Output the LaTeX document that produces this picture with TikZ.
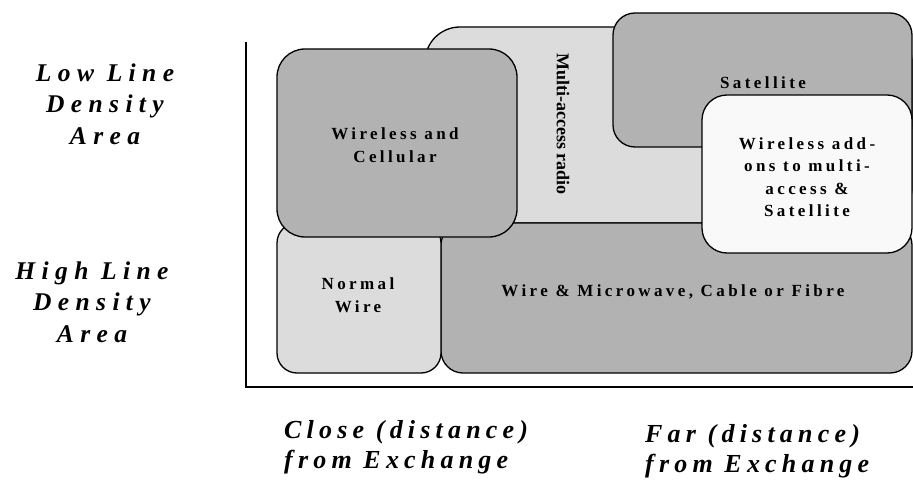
\documentclass[tikz,border=0pt]{standalone}
\usepackage{fontspec}
\setmainfont{Liberation Serif}
\newfontfamily\boxfont[LetterSpace=20]{Liberation Serif}
\newfontfamily\labfont[LetterSpace=25]{Liberation Serif}
\newfontfamily\botfont[LetterSpace=20]{Liberation Serif}
\definecolor{darkg}{HTML}{B2B2B2}
\definecolor{lightg}{HTML}{DCDCDC}
\definecolor{whiteg}{HTML}{F9F9F9}
\begin{document}
\begin{tikzpicture}[x=1pt,y=-1pt,
  region/.style={draw=black, line width=1.3pt, rounded corners=22pt, inner sep=0pt, align=center},
  darkbox/.style={region, fill=darkg},
  lightbox/.style={region, fill=lightg},
  whitebox/.style={region, fill=whiteg},
  boxtext/.style={font=\boxfont\bfseries\fontsize{17}{22.5}\selectfont, align=center},
  sidelabel/.style={font=\labfont\bfseries\itshape\fontsize{25.5}{31.5}\selectfont, align=center, inner sep=0pt},
  bottomlabel/.style={font=\botfont\bfseries\itshape\fontsize{26}{30}\selectfont, align=left, inner sep=0pt, anchor=west},
  axis/.style={draw=black, line width=1.8pt}]
\useasboundingbox (0,0) rectangle (913,484);
% regions
\node[lightbox, rounded corners=35pt, minimum width=487pt, minimum height=196pt] (multi) at (668.5,125) {};
\node[darkbox, minimum width=299pt, minimum height=134pt] (sat) at (762.5,80) {};
\node[darkbox, minimum width=471pt, minimum height=150pt] (wmcf) at (676.5,298) {};
\node[lightbox, rounded corners=20pt, minimum width=164pt, minimum height=150pt] (normal) at (359,298) {};
\node[darkbox, rounded corners=28pt, minimum width=240pt, minimum height=188pt] (wc) at (397,143) {};
\node[whitebox, rounded corners=25pt, minimum width=210pt, minimum height=158pt] (addon) at (807,174) {};
% texts
\node[boxtext] (wctext) at (395,145) {Wireless and\\Cellular};
\node[font=\bfseries\fontsize{18}{20}\selectfont, rotate=-90] (multitext) at (563,124) {Multi-access radio};
\node[boxtext] (sattext) at (763,83) {Satellite};
\node[boxtext] (addontext) at (807,177) {Wireless add-\\ons to multi-\\access \&\\Satellite};
\node[boxtext] (normaltext) at (358,295) {Normal\\Wire};
\node[boxtext] (wmcftext) at (673,292) {Wire \& Microwave, Cable or Fibre};
% axes
\coordinate (ytop) at (246,42);
\coordinate (origin) at (246,387);
\coordinate (xend) at (913,387);
\draw[axis] (ytop) -- (origin) -- (xend);
% labels
\node[sidelabel] (low) at (105,104) {Low Line\\Density\\Area};
\node[sidelabel] (high) at (92,302) {High Line\\Density\\Area};
\node[bottomlabel] (close) at (284,447) {Close (distance)\\from Exchange};
\node[bottomlabel] (far) at (645,451) {Far (distance)\\from Exchange};
\end{tikzpicture}
\end{document}
